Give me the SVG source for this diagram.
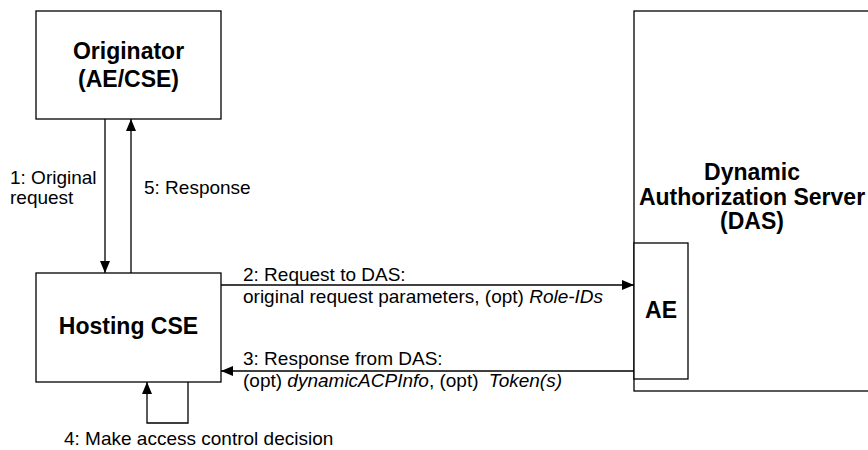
<svg xmlns="http://www.w3.org/2000/svg" width="868" height="450" viewBox="0 0 868 450">
<style>
.box{fill:#fff;stroke:#000;stroke-width:1.3}
.t{font-family:"Liberation Sans",Arial,sans-serif;font-size:19px;fill:#000}
.b{font-family:"Liberation Sans",Arial,sans-serif;font-size:23px;font-weight:bold;fill:#000;text-anchor:middle}
.c{fill:none;stroke:#000;stroke-width:1.3}
.i{font-style:italic}
</style>
<defs>
<marker id="ah" viewBox="0 0 12 10" refX="12" refY="5" markerWidth="12" markerHeight="10" markerUnits="userSpaceOnUse" orient="auto">
<path d="M0,0 L12,5 L0,10 Z" fill="#000"/>
</marker>
</defs>
<rect width="868" height="450" fill="#fff"/>
<g id="originator">
<rect class="box" x="36" y="11" width="185" height="108"/>
<text class="b" x="128.5" y="59">Originator</text>
<text class="b" x="128.5" y="87">(AE/CSE)</text>
</g>
<g id="hosting-cse">
<rect class="box" x="36" y="273" width="185" height="109"/>
<text class="b" x="128.5" y="334">Hosting CSE</text>
</g>
<g id="das">
<rect class="box" x="634" y="11" width="250" height="380"/>
<text class="b" x="752" y="180">Dynamic</text>
<text class="b" x="752" y="205">Authorization Server</text>
<text class="b" x="752" y="229">(DAS)</text>
</g>
<g id="ae">
<rect class="box" x="634" y="243" width="54" height="136"/>
<text class="b" x="661" y="318">AE</text>
</g>
<g id="connectors">
<line class="c" x1="105" y1="119" x2="105" y2="273" marker-end="url(#ah)"/>
<line class="c" x1="131" y1="273" x2="131" y2="119" marker-end="url(#ah)"/>
<line class="c" x1="221" y1="285" x2="634" y2="285" marker-end="url(#ah)"/>
<line class="c" x1="634" y1="371" x2="221" y2="371" marker-end="url(#ah)"/>
<polyline class="c" points="188,382 188,423 147,423 147,382" marker-end="url(#ah)"/>
<text class="t" x="10" y="184">1: Original</text>
<text class="t" x="10" y="204">request</text>
<text class="t" x="144" y="194">5: Response</text>
<text class="t" x="243" y="281">2: Request to DAS:</text>
<text class="t" x="243" y="303">original request parameters, (opt) <tspan class="i">Role-IDs</tspan></text>
<text class="t" x="243" y="365">3: Response from DAS:</text>
<text class="t" x="243" y="387">(opt) <tspan class="i">dynamicACPInfo</tspan>, (opt) <tspan class="i" dx="5">Token(s)</tspan></text>
<text class="t" x="64" y="445">4: Make access control decision</text>
</g>
</svg>
